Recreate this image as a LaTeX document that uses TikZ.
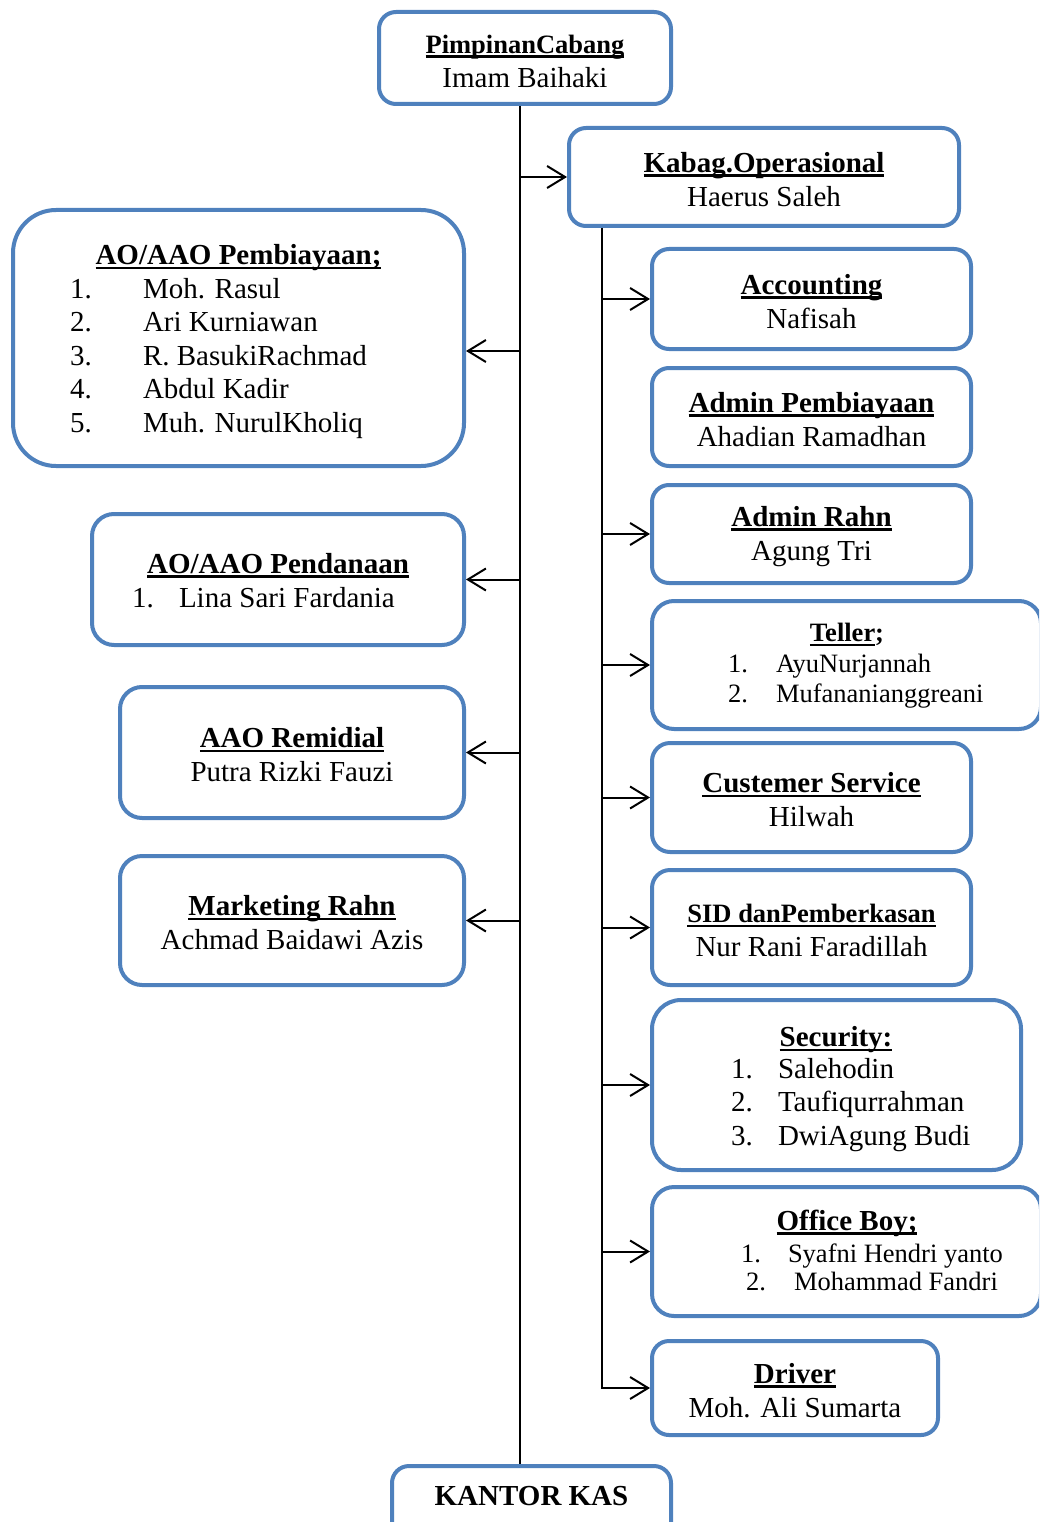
\documentclass[tikz,border=0pt]{standalone}
\usepackage{fontspec}
\setmainfont{Liberation Serif}
\usetikzlibrary{arrows.meta}
\definecolor{boxblue}{RGB}{79,129,189}
\newlength\ttlw
\newcommand\ttl[1]{\settowidth\ttlw{\textbf{#1}}\rule{0pt}{25pt}\textbf{#1}\hspace{-\ttlw}\rule[-4.5pt]{\ttlw}{2.5pt}}
\newcommand\bigtxt{\fontsize{29}{34}\selectfont}
\newcommand\smtxt{\fontsize{26.5}{30}\selectfont}

\begin{document}
\begin{tikzpicture}[x=1pt, y=-1pt, line width=2pt, font=\bigtxt,
  >={Straight Barb[length=18pt,width=22pt]},
  box/.style={draw=boxblue, line width=4pt, fill=white, rounded corners=#1, inner sep=0pt, align=center},
  box/.default=17pt,
  item/.style={anchor=base west, inner sep=0pt},
  head/.style={anchor=base, inner sep=0pt}]
  \useasboundingbox (0,0) rectangle (1039,1522);
  \clip (0,0) rectangle (1039,1522);
  % top and bottom
  \node[box, minimum width=292pt, minimum height=92pt] (pimpinan) at (525,58) {{\smtxt\ttl{PimpinanCabang}}\\Imam Baihaki};
  \node[box, minimum width=279pt, minimum height=96pt] (kantor) at (531.5,1514) {};
  \node (kantorlbl) at (531.5,1496) {\textbf{KANTOR KAS}};
  % left column
  \node[box=43pt, minimum width=451pt, minimum height=256pt] (aopb) at (238.5,338) {};
  \node[head] (aopb-t) at (238.5,265) {\ttl{AO/AAO Pembiayaan;}};
  \foreach \who [count=\i] in {Moh. Rasul, Ari Kurniawan, R. BasukiRachmad, Abdul Kadir, Muh. NurulKholiq}{
    \node[item] (aopb-n\i) at (69,{264.5+33.5*\i}) {\i.};
    \node[item] (aopb-p\i) at (142,{264.5+33.5*\i}) {\who};
  }
  \node[box=22pt, minimum width=372pt, minimum height=131pt] (aopd) at (278,579.5) {};
  \node[head] (aopd-t) at (278,573) {\ttl{AO/AAO Pendanaan}};
  \node[item] (aopd-n1) at (131,607) {1.};
  \node[item] (aopd-p1) at (178,607) {Lina Sari Fardania};
  \node[box=22pt, minimum width=344pt, minimum height=131pt] (remidial) at (292,752.5) {\ttl{AAO Remidial}\\Putra Rizki Fauzi};
  \node[box=22pt, minimum width=344pt, minimum height=129pt] (mkt) at (292,920.5) {\ttl{Marketing Rahn}\\Achmad Baidawi Azis};
  % right column
  \node[box, minimum width=390pt, minimum height=98pt] (kabag) at (764,177) {\ttl{Kabag.Operasional}\\Haerus Saleh};
  \node[box, minimum width=319pt, minimum height=100pt] (acc) at (811.5,299) {\ttl{Accounting}\\Nafisah};
  \node[box, minimum width=319pt, minimum height=98pt] (admpb) at (811.5,417) {\ttl{Admin Pembiayaan}\\Ahadian Ramadhan};
  \node[box, minimum width=319pt, minimum height=98pt] (admrahn) at (811.5,534) {\ttl{Admin Rahn}\\Agung Tri};
  \node[box=22pt, minimum width=389pt, minimum height=128pt] (teller) at (846.5,665) {};
  \node[head, font=\smtxt] (teller-t) at (847,641.5) {\ttl{Teller}\textbf{;}};
  \foreach \who [count=\i] in {AyuNurjannah, Mufananianggreani}{
    \node[item, font=\smtxt] (teller-n\i) at (727,{642+30*\i}) {\i.};
    \node[item, font=\smtxt] (teller-p\i) at (775,{642+30*\i}) {\who};
  }
  \node[box=18pt, minimum width=319pt, minimum height=109pt] (cs) at (811.5,797.5) {\ttl{Custemer Service}\\Hilwah};
  \node[box=18pt, minimum width=319pt, minimum height=115pt] (sid) at (811.5,927.5) {{\smtxt\ttl{SID danPemberkasan}}\\Nur Rani Faradillah};
  \node[box=29pt, minimum width=369pt, minimum height=170pt] (security) at (836.5,1085) {};
  \node[head] (security-t) at (836,1046.5) {\ttl{Security:}};
  \foreach \who [count=\i] in {Salehodin, Taufiqurrahman, DwiAgung Budi}{
    \node[item] (security-n\i) at (730,{1044.5+33.5*\i}) {\i.};
    \node[item] (security-p\i) at (777,{1044.5+33.5*\i}) {\who};
  }
  \node[box=22pt, minimum width=389pt, minimum height=129pt] (ob) at (846.5,1251.5) {};
  \node[head] (ob-t) at (847,1230) {\ttl{Office Boy;}};
  \node[item, font=\smtxt] (ob-n1) at (740,1262) {1.};
  \node[item, font=\smtxt] (ob-p1) at (787,1262) {Syafni Hendri yanto};
  \node[item, font=\smtxt] (ob-n2) at (745,1290) {2.};
  \node[item, font=\smtxt] (ob-p2) at (793,1290) {Mohammad Fandri};
  \node[box, minimum width=286pt, minimum height=94pt] (driver) at (795,1388) {\ttl{Driver}\\Moh. Ali Sumarta};
  % connectors
  \coordinate (trunk) at (519.5,0);
  \coordinate (sub) at (602,0);
  \coordinate (aopb-in) at ([yshift=-13pt]aopb.east);
  \draw (pimpinan.south -| trunk) -- (kantor.north -| trunk);
  \draw[->] (trunk |- kabag) -- (kabag);
  \draw[->] (trunk |- aopb-in) -- (aopb-in);
  \foreach \n in {aopd,remidial,mkt}
    \draw[->] (trunk |- \n) -- (\n);
  \draw[->] (kabag.south -| sub) |- (driver);
  \foreach \n in {acc,admrahn,teller,cs,sid,security,ob}
    \draw[->] (sub |- \n) -- (\n);
\end{tikzpicture}
\end{document}
